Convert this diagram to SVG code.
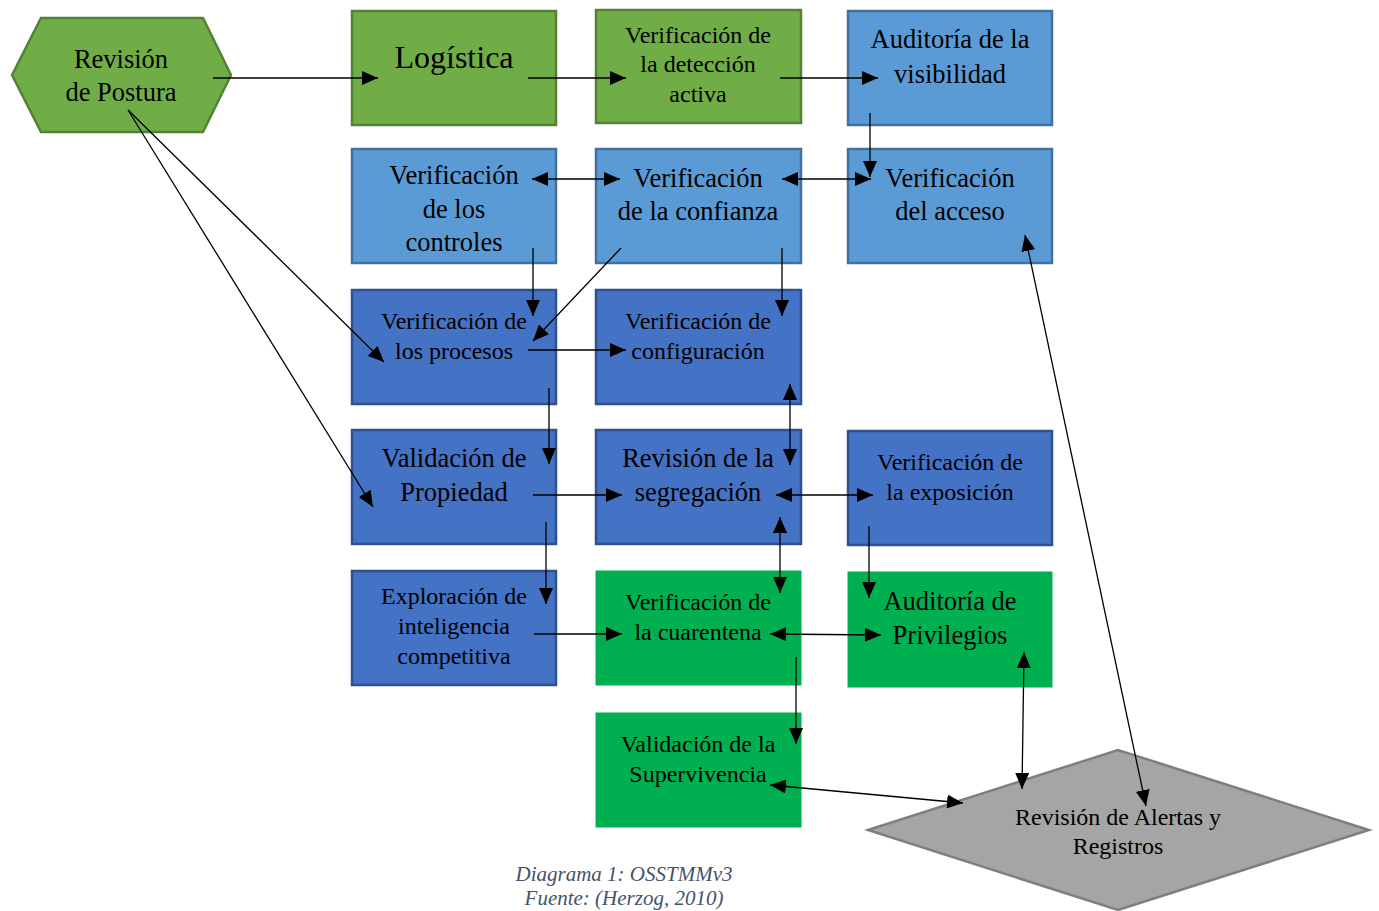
<svg xmlns="http://www.w3.org/2000/svg" width="1379" height="911" viewBox="0 0 1379 911">
<defs>
<marker id="ah" markerUnits="userSpaceOnUse" markerWidth="17" markerHeight="14" viewBox="0 0 17 14" refX="16" refY="7" orient="auto-start-reverse">
<path d="M0,0 L16,7 L0,14 z" fill="#000"/>
</marker>
<style>
text{font-family:"Liberation Serif","Times New Roman",serif;fill:#000;text-anchor:middle}
.g1{fill:#70AD47;stroke:#548235;stroke-width:2.5}
.b1{fill:#5B9BD5;stroke:#41719C;stroke-width:2.5}
.b2{fill:#4472C4;stroke:#2F528F;stroke-width:2.5}
.g2{fill:#00B050;stroke:#00B050;stroke-width:1}
.gr{fill:#A5A5A5;stroke:#7F7F7F;stroke-width:2.5}
.s24{font-size:26.5px}
.s21{font-size:24px}
.s29{font-size:32px}
#conn line{stroke:#000;stroke-width:1.3;fill:none}
.e{marker-end:url(#ah)}
.d{marker-start:url(#ah);marker-end:url(#ah)}
.cap{font-style:italic;font-size:21px;fill:#44546A}
</style>
</defs>
<rect width="1379" height="911" fill="#fff"/>
<g id="n-postura"><polygon class="g1" points="12,75 41,18 203,18 231,75 203,132 41,132"/><text class="s24" x="121" y="68">Revisión</text><text class="s24" x="121" y="101">de Postura</text></g>
<g id="n-logistica"><rect class="g1" x="352" y="11" width="204" height="114"/><text class="s29" x="454" y="68">Logística</text></g>
<g id="n-deteccion"><rect class="g1" x="596" y="10" width="205" height="113"/><text class="s21" x="698" y="43">Verificación de</text><text class="s21" x="698" y="72">la detección</text><text class="s21" x="698" y="102">activa</text></g>
<g id="n-visibilidad"><rect class="b1" x="848" y="11" width="204" height="114"/><text class="s24" x="950" y="48">Auditoría de la</text><text class="s24" x="950" y="83">visibilidad</text></g>
<g id="n-controles"><rect class="b1" x="352" y="149" width="204" height="114"/><text class="s24" x="454" y="184">Verificación</text><text class="s24" x="454" y="218">de los</text><text class="s24" x="454" y="251">controles</text></g>
<g id="n-confianza"><rect class="b1" x="596" y="149" width="205" height="114"/><text class="s24" x="698" y="187">Verificación</text><text class="s24" x="698" y="220">de la confianza</text></g>
<g id="n-acceso"><rect class="b1" x="848" y="149" width="204" height="114"/><text class="s24" x="950" y="187">Verificación</text><text class="s24" x="950" y="220">del acceso</text></g>
<g id="n-procesos"><rect class="b2" x="352" y="290" width="204" height="114"/><text class="s21" x="454" y="329">Verificación de</text><text class="s21" x="454" y="359">los procesos</text></g>
<g id="n-configuracion"><rect class="b2" x="596" y="290" width="205" height="114"/><text class="s21" x="698" y="329">Verificación de</text><text class="s21" x="698" y="359">configuración</text></g>
<g id="n-propiedad"><rect class="b2" x="352" y="430" width="204" height="114"/><text class="s24" x="454" y="467">Validación de</text><text class="s24" x="454" y="501">Propiedad</text></g>
<g id="n-segregacion"><rect class="b2" x="596" y="430" width="205" height="114"/><text class="s24" x="698" y="467">Revisión de la</text><text class="s24" x="698" y="501">segregación</text></g>
<g id="n-exposicion"><rect class="b2" x="848" y="431" width="204" height="114"/><text class="s21" x="950" y="470">Verificación de</text><text class="s21" x="950" y="500">la exposición</text></g>
<g id="n-exploracion"><rect class="b2" x="352" y="571" width="204" height="114"/><text class="s21" x="454" y="604">Exploración de</text><text class="s21" x="454" y="634">inteligencia</text><text class="s21" x="454" y="664">competitiva</text></g>
<g id="n-cuarentena"><rect class="g2" x="596" y="571" width="205" height="114"/><text class="s21" x="698" y="610">Verificación de</text><text class="s21" x="698" y="640">la cuarentena</text></g>
<g id="n-privilegios"><rect class="g2" x="848" y="572" width="204" height="115"/><text class="s24" x="950" y="610">Auditoría de</text><text class="s24" x="950" y="644">Privilegios</text></g>
<g id="n-supervivencia"><rect class="g2" x="596" y="713" width="205" height="114"/><text class="s21" x="698" y="752">Validación de la</text><text class="s21" x="698" y="782">Supervivencia</text></g>
<g id="n-alertas"><polygon class="gr" points="868,830 1118,750 1369,830 1118,910"/><text class="s21" x="1118" y="825">Revisión de Alertas y</text><text class="s21" x="1118" y="854">Registros</text></g>
<g id="conn">
<line class="e" x1="213" y1="78" x2="378" y2="78"/>
<line class="e" x1="528" y1="78" x2="626" y2="78"/>
<line class="e" x1="780" y1="78" x2="878" y2="78"/>
<line class="e" x1="870" y1="113" x2="870" y2="177"/>
<line class="d" x1="532" y1="179" x2="620" y2="179"/>
<line class="d" x1="782" y1="179" x2="871" y2="179"/>
<line class="e" x1="533" y1="248" x2="533" y2="316"/>
<line class="e" x1="621" y1="248" x2="533" y2="341"/>
<line class="e" x1="782" y1="248" x2="782" y2="316"/>
<line class="e" x1="528" y1="350" x2="626" y2="350"/>
<line class="e" x1="128" y1="110" x2="384" y2="362"/>
<line class="e" x1="128" y1="110" x2="373" y2="507"/>
<line class="e" x1="549" y1="388" x2="549" y2="464"/>
<line class="d" x1="790" y1="384" x2="790" y2="465"/>
<line class="e" x1="533" y1="495" x2="622" y2="495"/>
<line class="d" x1="776" y1="495" x2="873" y2="495"/>
<line class="d" x1="780" y1="517" x2="780" y2="593"/>
<line class="e" x1="546" y1="522" x2="546" y2="604"/>
<line class="e" x1="869" y1="526" x2="869" y2="598"/>
<line class="e" x1="534" y1="634" x2="622" y2="634"/>
<line class="d" x1="770" y1="634" x2="881" y2="635"/>
<line class="e" x1="796" y1="657" x2="796" y2="744"/>
<line class="d" x1="1024" y1="652" x2="1022" y2="789"/>
<line class="d" x1="770" y1="785" x2="963" y2="803"/>
<line class="d" x1="1025" y1="235" x2="1146" y2="806"/>
</g>
<g id="caption"><text class="cap" x="624" y="881">Diagrama 1: OSSTMMv3</text><text class="cap" x="624" y="905">Fuente: (Herzog, 2010)</text></g>
</svg>
